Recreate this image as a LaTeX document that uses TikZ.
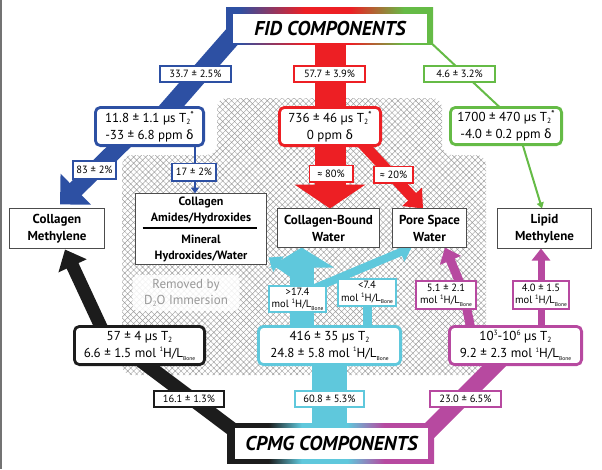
\documentclass[tikz,border=0pt]{standalone}
\usepackage{fontspec}
\setmainfont{PT Sans}
\newfontfamily\grk{Fira Sans}
\usetikzlibrary{arrows.meta,patterns.meta,calc}
\definecolor{fidblue}{RGB}{45,80,163}
\definecolor{fidred}{RGB}{237,31,36}
\definecolor{fidgreen}{RGB}{101,187,70}
\definecolor{cyanc}{RGB}{95,200,220}
\definecolor{magc}{RGB}{183,73,160}
\definecolor{blkc}{RGB}{28,28,28}
\pgfdeclarehorizontalshading{fidsh}{100bp}{color(0bp)=(fidblue); color(28bp)=(fidblue); color(44bp)=(fidred); color(55bp)=(fidred); color(68bp)=(fidgreen); color(100bp)=(fidgreen)}
\pgfdeclarehorizontalshading{cpsh}{100bp}{color(0bp)=(blkc); color(35bp)=(blkc); color(43bp)=(cyanc); color(54bp)=(cyanc); color(63bp)=(magc); color(100bp)=(magc)}
\pgfdeclarelayer{hatch}
\pgfdeclarelayer{bands}
\pgfsetlayers{hatch,bands,main}
\newcommand\mysub[1]{\raisebox{-0.35ex}{\fontsize{7.5}{7.5}\selectfont #1}}
\newcommand\mysups[1]{\raisebox{0.75ex}{\fontsize{7.5}{7.5}\selectfont #1}}
\newcommand\Tt{T\mysub{2}}
\newcommand\Tts{T\mysub{2}\raisebox{0.55ex}{\fontsize{10}{10}\selectfont *}}
\newcommand\Hb{mol \raisebox{0.8ex}{\fontsize{6.5}{6.5}\selectfont 1}H/L\raisebox{-0.45ex}{\fontsize{5.5}{6}\selectfont Bone}}
\newcommand\dlt{{\grk δ}}
\newcommand\apx{{\grk ≈}}
\begin{document}
\begin{tikzpicture}[x=1pt,y=-1pt,
  every node/.style={outer sep=0pt,inner sep=0pt},
  mainbox/.style={draw=black!70,line width=0.9pt,fill=white,align=center,font=\bfseries\fontsize{13}{17}\selectfont},
  databox/.style={rounded corners=5pt,line width=2.8pt,fill=white,align=center,font=\fontsize{13}{17}\selectfont},
  lab/.style={line width=1.6pt,fill=white,align=center,font=\fontsize{10.5}{12.5}\selectfont},
  titlebox/.style={fill=white,font=\bfseries\itshape\fontsize{20}{22}\selectfont},
  band/.style={line cap=butt}
]
\useasboundingbox (0,0) rectangle (602,469);
\draw[black!55,line width=1.5pt] (0.75,0) -- (0.75,469);

% hatched region
\begin{pgfonlayer}{hatch}
\path[rounded corners=10pt,fill=white,postaction={pattern={Hatch[angle=45,distance=4.2pt,line width=0.45pt]},pattern color=black!38}]
  (217,98) -- (442,98) -- (442,155) -- (486,155) -- (486,375) -- (122,375) -- (122,155) -- (217,155) -- cycle;
\end{pgfonlayer}
\node[fill=white,fill opacity=0.85,text opacity=1,rounded corners=6pt,minimum width=107pt,minimum height=36pt,align=center,text=black!40,font=\fontsize{13}{16}\selectfont] (rem) at (186,293) {Removed by\\D\mysub{2}O Immersion};

% frames and titles
\fill[shading=fidsh] (226,7) rectangle (433,44);
\node[titlebox,minimum width=194pt,minimum height=29pt] (fid) at (330,28) {FID COMPONENTS};
\fill[shading=cpsh] (227,423) rectangle (434,463);
\node[titlebox,minimum width=193pt,minimum height=31pt] (cpmg) at (331.5,443.5) {CPMG COMPONENTS};

% data boxes
\node[databox,draw=fidblue,minimum width=108.2pt,minimum height=38.2pt] (bluebox) at (149.5,126.5) {11.8 ± 1.1 µs \Tts\\-33 ± 6.8 ppm \dlt};
\node[databox,draw=fidred,minimum width=101.2pt,minimum height=38.2pt] (redbox) at (330,126.5) {736 ± 46 µs \Tts\\0 ppm \dlt};
\node[databox,draw=fidgreen,minimum width=111.2pt,minimum height=37.2pt] (greenbox) at (506,126) {1700 ± 470 µs \Tts\\-4.0 ± 0.2 ppm \dlt};
\node[databox,draw=blkc,minimum width=130.2pt,minimum height=38.2pt] (blackbox) at (139.5,345.5) {57 ± 4 µs \Tt\\6.6 ± 1.5 \Hb};
\node[databox,draw=cyanc,minimum width=142.2pt,minimum height=38.2pt] (cyanbox) at (329.5,345.5) {416 ± 35 µs \Tt\\24.8 ± 5.8 \Hb};
\node[databox,draw=magc,minimum width=132.2pt,minimum height=38.2pt] (magbox) at (515.5,345.5) {10\mysups{3}-10\mysups{6} µs \Tt\\9.2 ± 2.3 \Hb};

% main boxes
\node[mainbox,minimum width=95pt,minimum height=40pt] (cm) at (57,228.5) {Collagen\\Methylene};
\node[mainbox,minimum width=131pt,minimum height=71pt] (cam) at (201,229) {};
\node[font=\bfseries\fontsize{12}{16}\selectfont,align=center] (camtop) at (201,210) {Collagen\\Amides/Hydroxides};
\node[font=\bfseries\fontsize{12}{16}\selectfont,align=center] (cambot) at (201,248) {Mineral\\Hydroxides/Water};
\draw[line width=1.2pt] ($(cam.west)+(7,-1)$) -- ($(cam.east)+(-10,-1)$);
\node[mainbox,minimum width=102pt,minimum height=39pt] (cbw) at (328.5,228) {Collagen-Bound\\Water};
\node[mainbox,minimum width=74pt,minimum height=39pt] (psw) at (429.5,228) {Pore Space\\Water};
\node[mainbox,minimum width=94pt,minimum height=40pt] (lm) at (544.5,228.5) {Lipid\\Methylene};

% bands
\begin{pgfonlayer}{bands}
\draw[band,fidblue,line width=19pt] (238,30) -- ($(bluebox.north)+(12,10)$);
\draw[band,fidblue,line width=17pt,-{Triangle[width=42pt,length=22pt]}] ($(bluebox.center)+(-15,5)$) -- ($(cm.north)+(3,-4)$);
\draw[band,fidblue,line width=2.5pt,-{Triangle[width=8pt,length=6pt]}] ($(bluebox.south)+(45.5,0)$) -- ($(cam.north)+(-6,0)$);
\draw[band,fidred,line width=31pt] (fid.south) -- (redbox.center);
\draw[band,fidred,line width=31pt,-{Triangle[width=70pt,length=24pt]}] (redbox.center) -- (redbox.center |- cbw.north);
\draw[band,fidred,line width=11pt,-{Triangle[width=26pt,length=16pt]}] ($(redbox.south east)+(-22,-6)$) -- ($(psw.north)+(-6.5,0)$);
\draw[band,fidgreen,line width=2pt] (428,40) -- ($(greenbox.north)+(-4,2)$);
\draw[band,fidgreen,line width=2pt,-{Triangle[width=7pt,length=6pt]}] ($(greenbox.south)+(16,-2)$) -- ($(lm.north)+(-2.5,0)$);
\draw[band,blkc,line width=13pt,-{Triangle[width=30pt,length=18pt]}] ($(blackbox.north)+(-35.5,7)$) -- ($(cm.south)+(8,1)$);
\draw[band,blkc,line width=14pt] ($(blackbox.south)+(0,-5)$) -- (240,435);
\draw[band,cyanc,line width=35pt] (cyanbox.center) -- (cyanbox.center |- cpmg.north);
\draw[band,cyanc,line width=24pt,-{Triangle[width=64pt,length=20pt]}] ($(cyanbox.north)+(-28,5)$) -- ($(cbw.south)+(-27,0)$);
\draw[band,cyanc,line width=8pt,-{Triangle[width=18pt,length=12pt]}] (296,276) -- ($(cam.south east)+(2,-7)$);
\draw[band,cyanc,line width=9pt] ($(cyanbox.north)+(38,5)$) -- (367.5,292);
\draw[band,cyanc,line width=8pt,-{Triangle[width=20pt,length=12pt]}] (303,293) -- ($(psw.south)+(-18,0)$);
\draw[band,magc,line width=17pt] ($(magbox.south)+(-15,-5)$) -- (420,440);
\draw[band,magc,line width=9pt,-{Triangle[width=22pt,length=14pt]}] ($(magbox.north west)+(22,5)$) .. controls (463,290) .. ($(psw.south)+(15.5,0)$);
\draw[band,magc,line width=7pt,-{Triangle[width=18pt,length=12pt]}] ($(magbox.north)+(25.5,5)$) -- ($(lm.south)+(-3.5,0)$);
\end{pgfonlayer}

% labels
\node[lab,draw=fidblue,minimum width=71.4pt,minimum height=16.4pt] (l337) at (195.5,74) {33.7 ± 2.5\%};
\node[lab,draw=fidred,minimum width=71.4pt,minimum height=16.4pt] (l577) at (329.5,74) {57.7 ± 3.9\%};
\node[lab,draw=fidgreen,minimum width=71.4pt,minimum height=16.4pt] (l46) at (459.5,74) {4.6 ± 3.2\%};
\node[lab,draw=fidblue,minimum width=43.4pt,minimum height=18.4pt] (l83) at (94.5,170) {83 ± 2\%};
\node[lab,draw=fidblue,minimum width=44.4pt,minimum height=17.4pt] (l17) at (194,172) {17 ± 2\%};
\node[lab,draw=fidred,minimum width=43.4pt,minimum height=16.4pt] (l80) at (331,173.5) {\apx{} 80\%};
\node[lab,draw=fidred,minimum width=39.4pt,minimum height=16.4pt] (l20) at (393.5,174.5) {\apx{} 20\%};
\node[lab,draw=cyanc,minimum width=57.4pt,minimum height=26.4pt] (l174) at (297.5,299) {>17.4\\\Hb};
\node[lab,draw=cyanc,minimum width=58.4pt,minimum height=27.4pt] (l74) at (367,292.5) {<7.4\\\Hb};
\node[lab,draw=magc,minimum width=60.4pt,minimum height=28.4pt] (l51) at (446,295) {5.1 ± 2.1\\\Hb};
\node[lab,draw=magc,minimum width=56.4pt,minimum height=28.4pt] (l40) at (541,295) {4.0 ± 1.5\\\Hb};
\node[lab,draw=blkc,minimum width=70.4pt,minimum height=16.4pt] (l161) at (189,399) {16.1 ± 1.3\%};
\node[lab,draw=cyanc,minimum width=69.4pt,minimum height=16.4pt] (l608) at (329.5,399) {60.8 ± 5.3\%};
\node[lab,draw=magc,minimum width=71.4pt,minimum height=16.4pt] (l230) at (465.5,399) {23.0 ± 6.5\%};
\end{tikzpicture}
\end{document}
